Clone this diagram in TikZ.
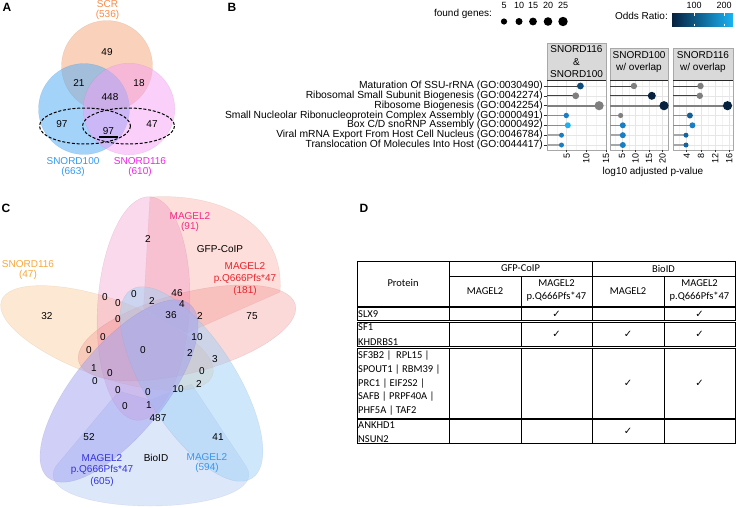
\documentclass[tikz,border=0pt]{standalone}
\usepackage{fontspec}
\setmainfont{Liberation Sans}
\newfontfamily\tabfont{Carlito}
\newfontfamily\symfont{DejaVu Sans}
% panel A
\definecolor{scrtxt}{HTML}{F98A48}
\definecolor{scrfill}{HTML}{F6A478}
\definecolor{hundtxt}{HTML}{3399F2}
\definecolor{hundfill}{HTML}{5AAEF5}
\definecolor{onesixtxt}{HTML}{F024E6}
\definecolor{onesixfill}{HTML}{F5A0F5}
% panel B
\definecolor{gridmaj}{HTML}{E6E6E6}
\definecolor{gridmin}{HTML}{F3F3F3}
\definecolor{stripbg}{HTML}{D9D9D9}
\definecolor{stripln}{HTML}{A8A8A8}
\definecolor{dotgrey}{HTML}{7F7F7F}
\definecolor{ornavy}{HTML}{06223F}
\definecolor{ordeep}{HTML}{0E4C7C}
\definecolor{ormid}{HTML}{1A7EC2}
\definecolor{orlight}{HTML}{19B3F4}
% panel C
\definecolor{sntxt}{HTML}{F5A83E}
\definecolor{snfill}{HTML}{FAC890}
\definecolor{mgtxt}{HTML}{F52A85}
\definecolor{mgfill}{HTML}{EE80C0}
\definecolor{mutxt}{HTML}{E6262E}
\definecolor{mufill}{HTML}{F28080}
\definecolor{bitxt}{HTML}{3A96EC}
\definecolor{bifill}{HTML}{A0D0F5}
\definecolor{bmtxt}{HTML}{3333DD}
\definecolor{bmfill}{HTML}{A0A0F0}
\definecolor{coipfill}{HTML}{FBB5AC}
\definecolor{bioidfill}{HTML}{BCCFF6}

\begin{document}
\begin{tikzpicture}[x=1pt,y=-1pt,
  tag/.style={inner sep=0pt,font=\bfseries\fontsize{12}{12}\selectfont},
  lbl/.style={inner sep=0pt,align=center,font=\fontsize{10}{10}\selectfont},
  lblthree/.style={inner sep=0pt,align=center,font=\fontsize{10}{11.8}\selectfont},
  num/.style={inner sep=0pt,font=\fontsize{10}{10}\selectfont},
  golab/.style={inner sep=0pt,anchor=east,font=\fontsize{10.3}{10}\selectfont},
  tick/.style={inner sep=0pt,font=\fontsize{9}{9}\selectfont},
  strip/.style={inner sep=0pt,align=center,font=\fontsize{10}{12.5}\selectfont},
  vset/.style={fill=#1,fill opacity=.5,draw=#1!70!black,draw opacity=.2,line width=.4pt},
  cell/.style={draw=black,line width=1pt},
  tabtxt/.style={inner sep=0pt,align=center,font=\tabfont\fontsize{10.5}{13.7}\selectfont},
  rowtxt/.style={inner sep=0pt,align=left,anchor=west,font=\tabfont\fontsize{10.5}{14.5}\selectfont},
  chk/.style={inner sep=0pt,font=\symfont\fontsize{10}{10}\selectfont}]
\useasboundingbox (0,0) rectangle (738,507);

% ---------- A: Venn of three sets
\node[tag] (tagA) at (7,7) {A};
\path[vset=scrfill] (107,66) circle[radius=45.5];
\path[vset=hundfill,fill opacity=.55] (84,109) circle[radius=45.5];
\path[vset=onesixfill] (129,109) circle[radius=45.8];
\draw[line width=1pt,dash pattern=on 3pt off 1.8pt]
  (85,126) ellipse[x radius=45.5,y radius=18]
  (128.5,126) ellipse[x radius=46,y radius=18];
\node[lbl,text=scrtxt] (scr) at (107.5,10) {SCR\\(536)};
\node[lbl,text=hundtxt] (snhund) at (73,167) {SNORD100\\(663)};
\node[lbl,text=onesixtxt] (snonesix) at (140,167) {SNORD116\\(610)};
\foreach [count=\k] \x/\y/\t in {107/52/49,79/83/21,139/83/18,110/97/448,62/124/97,152/124/47}
  \node[num] (va\k) at (\x,\y) {\t};
\node[num] (vaul) at (108.5,131) {97};
\draw[line width=1.5pt] ([xshift=-3.5pt,yshift=-2.2pt]vaul.south west) -- ([xshift=3.5pt,yshift=-2.2pt]vaul.south east);

% ---------- B: GO enrichment lollipops
\node[tag] (tagB) at (232,7) {B};
\node[lbl] (fglab) at (463,14) {found genes:};
\foreach \x/\n/\r in {504/5/3.1,519/10/3.5,533/15/3.9,548/20/4.3,563/25/4.7}{
  \node[tick] (fg\n) at (\x,5) {\n};
  \fill (\x,21.5) circle[radius=\r];
}
\node[lbl,anchor=east] (orlab) at (668,15.5) {Odds Ratio:};
\shade[left color=ornavy,right color=orlight] (672,13) rectangle (733,26);
\foreach \x/\n in {694/100,724/200}{
  \node[tick] (or\n) at (\x,5) {\n};
  \draw[white,line width=.5pt] (\x,13)--(\x,15.5) (\x,23.5)--(\x,26);
}
% facets
\foreach \xa/\xb/\ya in {547/606/43,610/668/48,673/733/48}{
  \fill[white] (\xa,80) rectangle (\xb,150);
  \filldraw[fill=stripbg,draw=stripln] (\xa,\ya) rectangle (\xb,80);
}
\foreach \x in {556.8,576.5,596.1,615.2,628.7,642.3,655.8,679.6,693.8,708,722.2}
  \draw[gridmin,line width=.4pt] (\x,80)--(\x,150);
\foreach \x in {566.7,586.3,622,635.5,649,662.6,686.7,700.9,715.1,729.3}
  \draw[gridmaj,line width=.5pt] (\x,80)--(\x,150);
\foreach \xa/\xb in {547/606,610/668,673/733}{
  \foreach \y in {86,95.8,105.7,115.5,125.3,135.2,145}
    \draw[gridmaj,line width=.5pt] (\xa,\y)--(\xb,\y);
  \draw[stripln] (\xa,80) rectangle (\xb,150);
  \draw[black!85,line width=.8pt] (\xa,80)--(\xb,80);
}
\node[strip] (st1) at (576.5,62) {SNORD116\\\&\\SNORD100};
\node[strip] (st2) at (639,62) {SNORD100\\w/ overlap};
\node[strip] (st3) at (703,62) {SNORD116\\w/ overlap};
% terms
\foreach \y/\go [count=\i] in {86/Maturation Of SSU-rRNA (GO:0030490),
  95.8/Ribosomal Small Subunit Biogenesis (GO:0042274),
  105.7/Ribosome Biogenesis (GO:0042254),
  115.5/Small Nucleolar Ribonucleoprotein Complex Assembly (GO:0000491),
  125.3/{Box C/D snoRNP Assembly (GO:0000492)},
  135.2/Viral mRNA Export From Host Cell Nucleus (GO:0046784),
  145/Translocation Of Molecules Into Host (GO:0044417)}{
  \node[golab] (go\i) at (543,\y) {\go};
  \draw[black!80,line width=.5pt] (543.5,\y)--(547,\y);
}
% segments and dots: start / row / end / line colour / line width / dot colour / radius
\foreach \xs/\y/\xe/\lc/\lw/\dc/\r in {
  547/86/580.4/black!75/.8/ordeep/3.4, 547/95.8/575.7/black!75/.8/dotgrey/3.4,
  547/105.7/599.1/black!50/1.6/dotgrey/4.6, 547/115.5/566.3/black!45/1.4/ormid/2.7,
  547/125.3/567.8/black!45/1.4/orlight/3.0, 547/135.2/561.5/black!35/1.8/ormid/2.5,
  547/145/561.5/black!35/1.8/ormid/2.5,
  610/86/633.9/black!75/.8/dotgrey/3.2, 610/95.8/651.8/black!75/.8/ornavy/4.0,
  610/105.7/664/black!50/1.6/ornavy/4.6, 610/115.5/620.6/black!45/1.4/dotgrey/2.6,
  610/125.3/622.8/black!45/1.4/ormid/3.0, 610/135.2/622.8/black!35/1.8/ormid/3.0,
  610/145/622.8/black!35/1.8/ormid/3.0,
  673/86/700.5/black!75/.8/dotgrey/3.2, 673/95.8/699.8/black!75/.8/dotgrey/3.2,
  673/105.7/727.5/black!50/1.6/ornavy/4.6, 673/115.5/689.9/black!45/1.4/ordeep!60!ormid/3.0,
  673/125.3/692.4/black!45/1.4/ormid/3.0, 673/135.2/686/black!35/1.8/ordeep!50!ormid/2.5,
  673/145/686/black!35/1.8/ordeep!50!ormid/2.5}{
  \draw[\lc,line width=\lw pt] (\xs,\y)--(\xe,\y);
  \fill[\dc] (\xe,\y) circle[radius=\r];
}
\foreach \x/\t [count=\k] in {566.7/5,586.3/10,606/15,622/5,635.5/10,649/15,662.6/20,686.7/4,700.9/8,715.1/12,729.3/16}{
  \draw[black!80,line width=.5pt] (\x,150)--(\x,152);
  \node[tick,rotate=90,anchor=east] (xt\k) at (\x,152.8) {\t};
}
\node[lbl] (xlab) at (653,172) {log10 adjusted p-value};

% ---------- C: Venn of five sets
\node[tag] (tagC) at (6,208) {C};
\path[vset=bioidfill] (56,466) .. controls (40,490) and (90,506) .. (150,506)
  .. controls (210,506) and (262,490) .. (246,466) -- (191.5,384) -- (150,400) -- (119,391) -- cycle;
\path[vset=coipfill,fill opacity=.45] (150,197) .. controls (232,192) and (285,232) .. (280,292)
  -- (187,333) -- (143.5,308.5) -- cycle;
\path[vset=snfill,fill opacity=.4] (107,338) ellipse[x radius=112,y radius=39,rotate=-19.5];
\path[vset=mgfill,fill opacity=.3] (143.5,308.5) ellipse[x radius=112,y radius=46,rotate=86.7];
\path[vset=mufill,fill opacity=.3] (187,333) ellipse[x radius=112,y radius=40,rotate=14.7];
\path[vset=bifill] (191.5,384) ellipse[x radius=112,y radius=45,rotate=-57.3];
\path[vset=bmfill] (119,391) ellipse[x radius=112,y radius=45,rotate=50.7];
\node[lbl,text=sntxt] (csn) at (28,270) {SNORD116\\(47)};
\node[lbl,text=mgtxt] (cmg) at (190,222) {MAGEL2\\(91)};
\node[lbl] (coip) at (220,249) {GFP-CoIP};
\node[lblthree,text=mutxt] (cmu) at (245,279) {MAGEL2\\p.Q666Pfs*47\\(181)};
\node[lblthree,text=bmtxt] (cbm) at (102,470.5) {MAGEL2\\p.Q666Pfs*47\\(605)};
\node[lbl] (bioid) at (156,458) {BioID};
\node[lbl,text=bitxt] (cbi) at (207,463) {MAGEL2\\(594)};
\foreach [count=\k] \x/\y/\t in {148/239/2,47/316/32,252/316/75,
  105/297/0,118/303/0,134/294/0,152/301/2,177/293/46,182/304/4,171/315/36,200/316/2,
  118/319/0,197/337/10,103/337/0,89/350/0,143/350/0,190/353/2,215/359/3,
  94/368/1,110/373/0,202/371/0,95/381/0,118/390/0,148/392/0,178/389/10,199/384/2,
  125/406/0,149/405/1,158/418/487,89/437/52,218/437/41}
  \node[num] (vc\k) at (\x,\y) {\t};

% ---------- D: table
\node[tag] (tagD) at (364,208) {D};
\draw[cell] (357,261) rectangle (449,306);
\draw[cell] (449,261) rectangle (592,276) (592,261) rectangle (735,276);
\foreach \xa/\xb in {449/521,521/592,592/664,664/735}
  \draw[cell] (\xa,276) rectangle (\xb,306);
\foreach \ya/\yb in {307.3/320.7,322.3/346.7,348/418.3,419.7/443.3}
  \foreach \xa/\xb in {357/449,449/521,521/592,592/664,664/735}
    \draw[cell] (\xa,\ya) rectangle (\xb,\yb);
\node[tabtxt] (hprot) at (403,283) {Protein};
\node[tabtxt] (hcoip) at (520.5,268.5) {GFP-CoIP};
\node[tabtxt] (hbioid) at (663.5,268.5) {BioID};
\node[tabtxt] (hwa) at (485,291.5) {MAGEL2};
\node[tabtxt] (hmua) at (556.5,290.5) {MAGEL2\\p.Q666Pfs*47};
\node[tabtxt] (hwb) at (628,291.5) {MAGEL2};
\node[tabtxt] (hmub) at (699.5,290.5) {MAGEL2\\p.Q666Pfs*47};
\node[rowtxt] (rslx) at (358,314) {SLX9};
\node[rowtxt] (rsf) at (358,334.5) {SF1\\KHDRBS1};
\node[rowtxt,font=\tabfont\fontsize{10.5}{13.75}\selectfont] (rsfb) at (358,383.3) {SF3B2 |~ RPL15 |\\SPOUT1 | RBM39 |\\PRC1 | EIF2S2 |\\SAFB | PRPF40A |\\PHF5A | TAF2};
\node[rowtxt] (rank) at (358,432) {ANKHD1\\NSUN2};
\foreach \x/\y [count=\k] in {556.5/314,699.5/314,556.5/334.5,628/334.5,699.5/334.5,628/383,699.5/383,628/431.5}
  \node[chk] (ck\k) at (\x,\y) {✓};
\end{tikzpicture}
\end{document}
